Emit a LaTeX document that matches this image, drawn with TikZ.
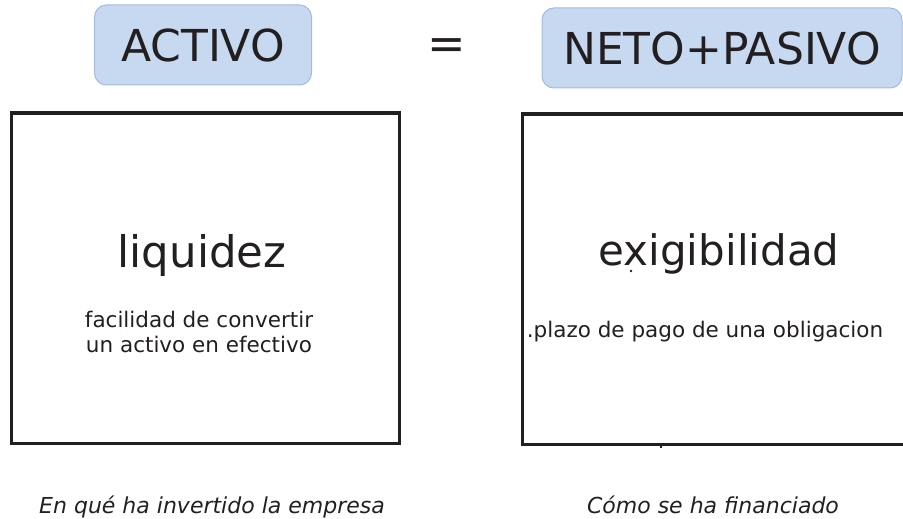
\documentclass[tikz,border=0pt]{standalone}
\usepackage{fontspec}
\setmainfont{DejaVu Sans}
\usepackage{tikz}
\usetikzlibrary{positioning}
\definecolor{capblue}{HTML}{C6D9F0}
\definecolor{capedge}{HTML}{A3BCDD}
\definecolor{ink}{HTML}{231F20}

\begin{document}
\begin{tikzpicture}[x=1pt, y=-1pt,
        headbox/.style={rounded corners=12pt, fill=capblue, draw=capedge, line width=1pt,
            text=ink, font=\fontsize{44}{50}\selectfont, inner sep=0pt},
        framebox/.style={draw=ink, line width=3pt, inner sep=0pt},
        bigword/.style={text=ink, inner sep=0pt},
        notetext/.style={text=ink, font=\fontsize{21.5}{25}\selectfont, align=center, inner sep=0pt},
        captext/.style={text=ink, font=\fontsize{22}{26}\selectfont\itshape, inner sep=0pt}]
        \useasboundingbox (0, 0) rectangle (903, 519);
        \clip (0, 0) rectangle (903, 519);
        % Headers
        \node [headbox, minimum width=217pt, minimum height=80pt] (activo) at (203, 45) {ACTIVO};
        \node [bigword, font=\fontsize{46}{50}\selectfont] (igual) at (447, 49) {=};
        \node [headbox, minimum width=360pt, minimum height=80pt] (neto) at (722, 48) {NETO+PASIVO};
        % Frames
        \node [framebox, minimum width=388pt, minimum height=330pt] (izq) at (205, 278) {};
        \node [framebox, minimum width=418pt, minimum height=330pt] (der) at (731, 279) {};
        % Left side
        \node [bigword, anchor=base, font=\fontsize{43.5}{50}\selectfont] (liquidez) at (202, 267) {liquidez};
        \node [notetext] (facilidad) at (199, 332) {facilidad de convertir\\un activo en efectivo};
        % Right side
        \node [bigword, anchor=base, font=\fontsize{42}{48}\selectfont] (exigibilidad) at (719, 265) {exigibilidad};
        \node [notetext, anchor=base] (plazo) at (705, 337) {.plazo de pago de una obligacion};
        \fill [ink] (631, 271) circle (1.3);
        \fill [ink] (660.3, 444) rectangle (661.7, 448);
        % Captions
        \node [captext, anchor=base] (invertido) at (212, 513) {En qué ha invertido la empresa};
        \node [captext, anchor=base] (financiado) at (713, 513) {Cómo se ha financiado};
    \end{tikzpicture}
\end{document}
